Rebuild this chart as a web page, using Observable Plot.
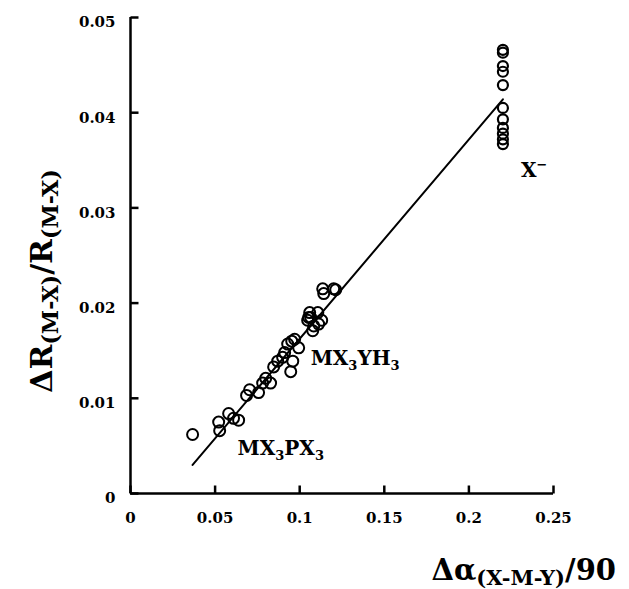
<!DOCTYPE html>
<html>
<head>
<meta charset="utf-8">
<script src="https://cdn.jsdelivr.net/npm/d3@7"></script>
<script src="https://cdn.jsdelivr.net/npm/@observablehq/plot@0.6"></script>
<style>
  body { margin: 0; background: #fff; }
  #chart svg { display: block; }
</style>
</head>
<body>
<div id="chart"></div>
<script>
// Main cluster (MX3YH3 / MX3PX3 compounds)
const clusterX = [0.0367, 0.0527, 0.0521, 0.0580, 0.0639, 0.0609, 0.0686, 0.0704, 0.0757, 0.0781,
                  0.0828, 0.0799, 0.0846, 0.0870, 0.0899, 0.0911, 0.0959, 0.0947, 0.0929, 0.0953,
                  0.0994, 0.0970, 0.1047, 0.1053, 0.1059, 0.1065, 0.1107, 0.1130, 0.1083, 0.1077,
                  0.1112, 0.1136, 0.1142, 0.1201, 0.1213];
const clusterY = [0.0062, 0.0066, 0.0075, 0.0084, 0.0077, 0.0079, 0.0103, 0.0109, 0.0106, 0.0116,
                  0.0116, 0.0121, 0.0133, 0.0139, 0.0143, 0.0148, 0.0139, 0.0128, 0.0157, 0.0160,
                  0.0153, 0.0162, 0.0182, 0.0185, 0.0190, 0.0185, 0.0190, 0.0182, 0.0176, 0.0171,
                  0.0178, 0.0215, 0.0210, 0.0215, 0.0214];
// Anion column (X-)
const anionX = [0.2201, 0.2201, 0.2201, 0.2201, 0.2201, 0.2201, 0.2201, 0.2201, 0.2201, 0.2201, 0.2201];
const anionY = [0.0466, 0.0463, 0.0449, 0.0443, 0.0429, 0.0405, 0.0393, 0.0384, 0.0378, 0.0372, 0.0367];
// Fitted line
const fitX = [0.0367, 0.2201];
const fitY = [0.0030, 0.0414];
// Ticks
const xTicks = [0, 0.05, 0.1, 0.15, 0.2, 0.25];
const xTickLabels = ["0", "0.05", "0.1", "0.15", "0.2", "0.25"];
const yTicks = [0, 0.01, 0.02, 0.03, 0.04, 0.05];
const yTickLabels = ["0", "0.01", "0.02", "0.03", "0.04", "0.05"];
// Annotations (markup: _ = subscript, ^ = superscript)
const noteText = ["MX_3YH_3", "MX_3PX_3", "X^\u2212"];
const noteX = [0.1065, 0.0633, 0.2308];
const noteY = [0.0142, 0.0047, 0.0339];

const FONT = "DejaVu Serif";
const W = 629, H = 589, ML = 130, MR = 76, MT = 17, MB = 96;
const XDOM = [0, 0.25], YDOM = [0, 0.05];
const TICK = 8; // px, inward tick length
const tickLenY = TICK * (YDOM[1] - YDOM[0]) / (H - MT - MB);
const tickLenX = TICK * (XDOM[1] - XDOM[0]) / (W - ML - MR);

const svg = Plot.plot({
  width: W,
  height: H,
  marginLeft: ML,
  marginRight: MR,
  marginTop: MT,
  marginBottom: MB,
  x: { domain: XDOM, label: null },
  y: { domain: YDOM, label: null },
  style: { fontFamily: FONT, fontWeight: "bold", fontSize: "15px", color: "black", background: "white" },
  marks: [
    Plot.ruleX([0], { strokeWidth: 2.5 }),
    Plot.ruleY([0], { strokeWidth: 2.5 }),
    Plot.link(xTicks, { x1: d => d, x2: d => d, y1: YDOM[0], y2: YDOM[0] + tickLenY, stroke: "black", strokeWidth: 2.5 }),
    Plot.link(yTicks, { y1: d => d, y2: d => d, x1: XDOM[0], x2: XDOM[0] + tickLenX, stroke: "black", strokeWidth: 2.5 }),
    Plot.axisX(xTicks, { tickSize: 0, tickPadding: 19, tickFormat: d => xTickLabels[xTicks.indexOf(d)], fontSize: 15 }),
    Plot.axisY(yTicks, { tickSize: 0, tickPadding: 15, dy: 5, tickFormat: d => yTickLabels[yTicks.indexOf(d)], fontSize: 15 }),
    Plot.line(d3.zip(fitX, fitY), { x: d => d[0], y: d => d[1], stroke: "black", strokeWidth: 2 }),
    Plot.dot(d3.zip(clusterX, clusterY), { x: d => d[0], y: d => d[1], r: 5.5, stroke: "black", strokeWidth: 2, fill: "none" }),
    Plot.dot(d3.zip(anionX, anionY), { x: d => d[0], y: d => d[1], r: 5, stroke: "black", strokeWidth: 2.2, fill: "none" }),
    Plot.text(d3.zip(noteX, noteY, noteText), { x: d => d[0], y: d => d[1], text: d => d[2], textAnchor: "start", lineAnchor: "middle", fontSize: 20 })
  ]
});

// Render rich text (sub/superscripts) in annotations
function richify(textEl, str, subSize, subShift, supShift) {
  while (textEl.firstChild) textEl.removeChild(textEl.firstChild);
  const ns = "http://www.w3.org/2000/svg";
  let shift = 0;
  for (let i = 0; i < str.length; i++) {
    let ch = str[i];
    const ts = document.createElementNS(ns, "tspan");
    let target = 0;
    if (ch === "_" || ch === "^") {
      target = ch === "_" ? subShift : supShift;
      ch = str[++i];
      ts.setAttribute("font-size", subSize);
    }
    if (target !== shift) ts.setAttribute("dy", target - shift);
    shift = target;
    ts.textContent = ch;
    textEl.appendChild(ts);
  }
}
svg.querySelectorAll("text").forEach(t => {
  const str = t.textContent;
  if (noteText.includes(str)) richify(t, str, 13, 5, -8);
});

// Axis titles
const s = d3.select(svg);
function addTitle(sel, segs, mainSize, subSize, subShift) {
  const t = sel.append("text").attr("font-family", FONT).attr("font-weight", "bold").attr("fill", "black");
  let shift = 0;
  segs.forEach(([txt, kind]) => {
    const target = kind === "sub" ? subShift : 0;
    const ts = t.append("tspan").attr("font-size", kind === "sub" ? subSize : mainSize).text(txt);
    if (target !== shift) ts.attr("dy", target - shift);
    shift = target;
  });
  return t;
}
addTitle(s, [["\u0394\u03b1", "n"], ["(X-M-Y)", "sub"], ["/90", "n"]], 29, 21, 5)
  .attr("x", 616).attr("y", 580).attr("text-anchor", "end");
addTitle(s, [["\u0394R", "n"], ["(M-X)", "sub"], ["/R", "n"], ["(M-X)", "sub"]], 30, 22, 6)
  .attr("text-anchor", "middle").attr("transform", "translate(52,281) rotate(-90)");

document.getElementById("chart").appendChild(svg);
</script>
</body>
</html>
